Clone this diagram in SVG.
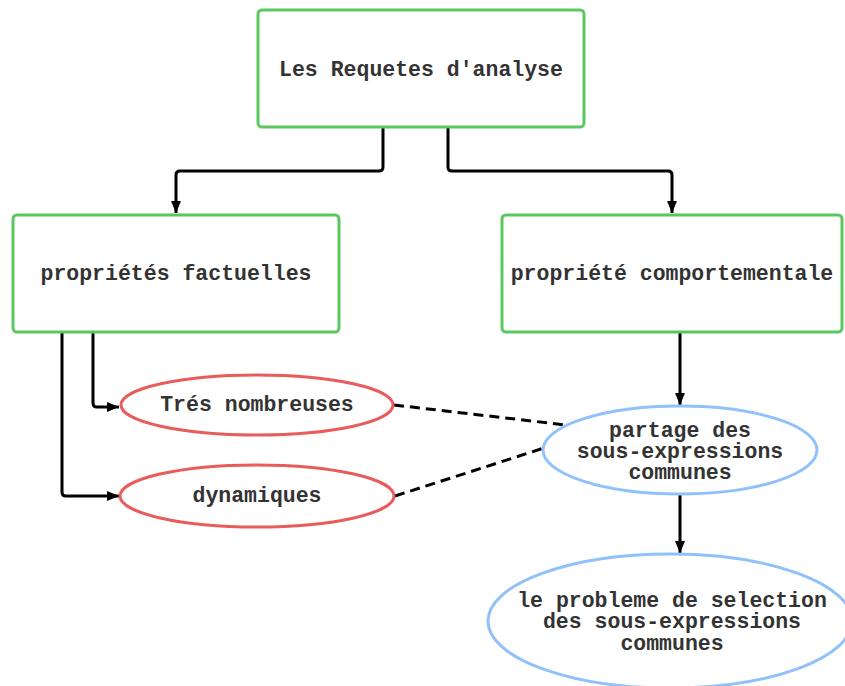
<svg xmlns="http://www.w3.org/2000/svg" width="845" height="686" viewBox="0 0 845 686">
<defs>
<marker id="arr" viewBox="0 0 12 10" refX="12" refY="5" markerWidth="12" markerHeight="10" markerUnits="userSpaceOnUse" orient="auto">
<path d="M0,0 L12,5 L0,10 Z" fill="#000"/>
</marker>
</defs>
<style>
.box{fill:#fff;stroke:#5ac85e;stroke-width:3}
.red{fill:#fff;stroke:#e95c5c;stroke-width:3}
.blue{fill:#fff;stroke:#90c1fb;stroke-width:3}
.t{font-family:"Liberation Mono","DejaVu Sans Mono",monospace;font-weight:bold;font-size:21.5px;fill:#333;text-anchor:middle}
.c{fill:none;stroke:#000;stroke-width:3;stroke-linejoin:round}
.d{fill:none;stroke:#000;stroke-width:3;stroke-dasharray:10 6}
</style>
<rect width="845" height="686" fill="#fff"/>
<g id="connectors">
<path class="c" d="M383,127 V167 Q383,171 379,171 H180 Q176,171 176,175 V213" marker-end="url(#arr)"/>
<path class="c" d="M448,127 V167 Q448,171 452,171 H668 Q672,171 672,175 V213" marker-end="url(#arr)"/>
<path class="c" d="M93,332 V403 Q93,407 97,407 H119" marker-end="url(#arr)"/>
<path class="c" d="M62,332 V492 Q62,496 66,496 H119" marker-end="url(#arr)"/>
<path class="c" d="M680,332 V405" marker-end="url(#arr)"/>
<path class="c" d="M680,495 V553" marker-end="url(#arr)"/>
<path class="d" d="M394,405 L566,425"/>
<path class="d" d="M395,496 L544,448"/>
</g>
<g id="n1">
<rect class="box" x="258" y="10" width="326" height="117" rx="4"/>
<text class="t" x="421" y="76">Les Requetes d'analyse</text>
</g>
<g id="n2">
<rect class="box" x="13" y="215" width="326" height="117" rx="4"/>
<text class="t" x="176" y="280">propriétés factuelles</text>
</g>
<g id="n3">
<rect class="box" x="502" y="215" width="340" height="117" rx="4"/>
<text class="t" x="672" y="280">propriété comportementale</text>
</g>
<g id="n4">
<ellipse class="red" cx="257" cy="405" rx="136" ry="30"/>
<text class="t" x="257" y="411">Trés nombreuses</text>
</g>
<g id="n5">
<ellipse class="red" cx="257" cy="496" rx="137" ry="31"/>
<text class="t" x="257" y="502">dynamiques</text>
</g>
<g id="n6">
<ellipse class="blue" cx="680" cy="450" rx="137" ry="44"/>
<text class="t" x="680" y="437">partage des</text>
<text class="t" x="680" y="458">sous-expressions</text>
<text class="t" x="680" y="479">communes</text>
</g>
<g id="n7">
<ellipse class="blue" cx="670" cy="621" rx="182" ry="67"/>
<text class="t" x="672" y="607">le probleme de selection</text>
<text class="t" x="672" y="628">des sous-expressions</text>
<text class="t" x="672" y="650">communes</text>
</g>
</svg>
